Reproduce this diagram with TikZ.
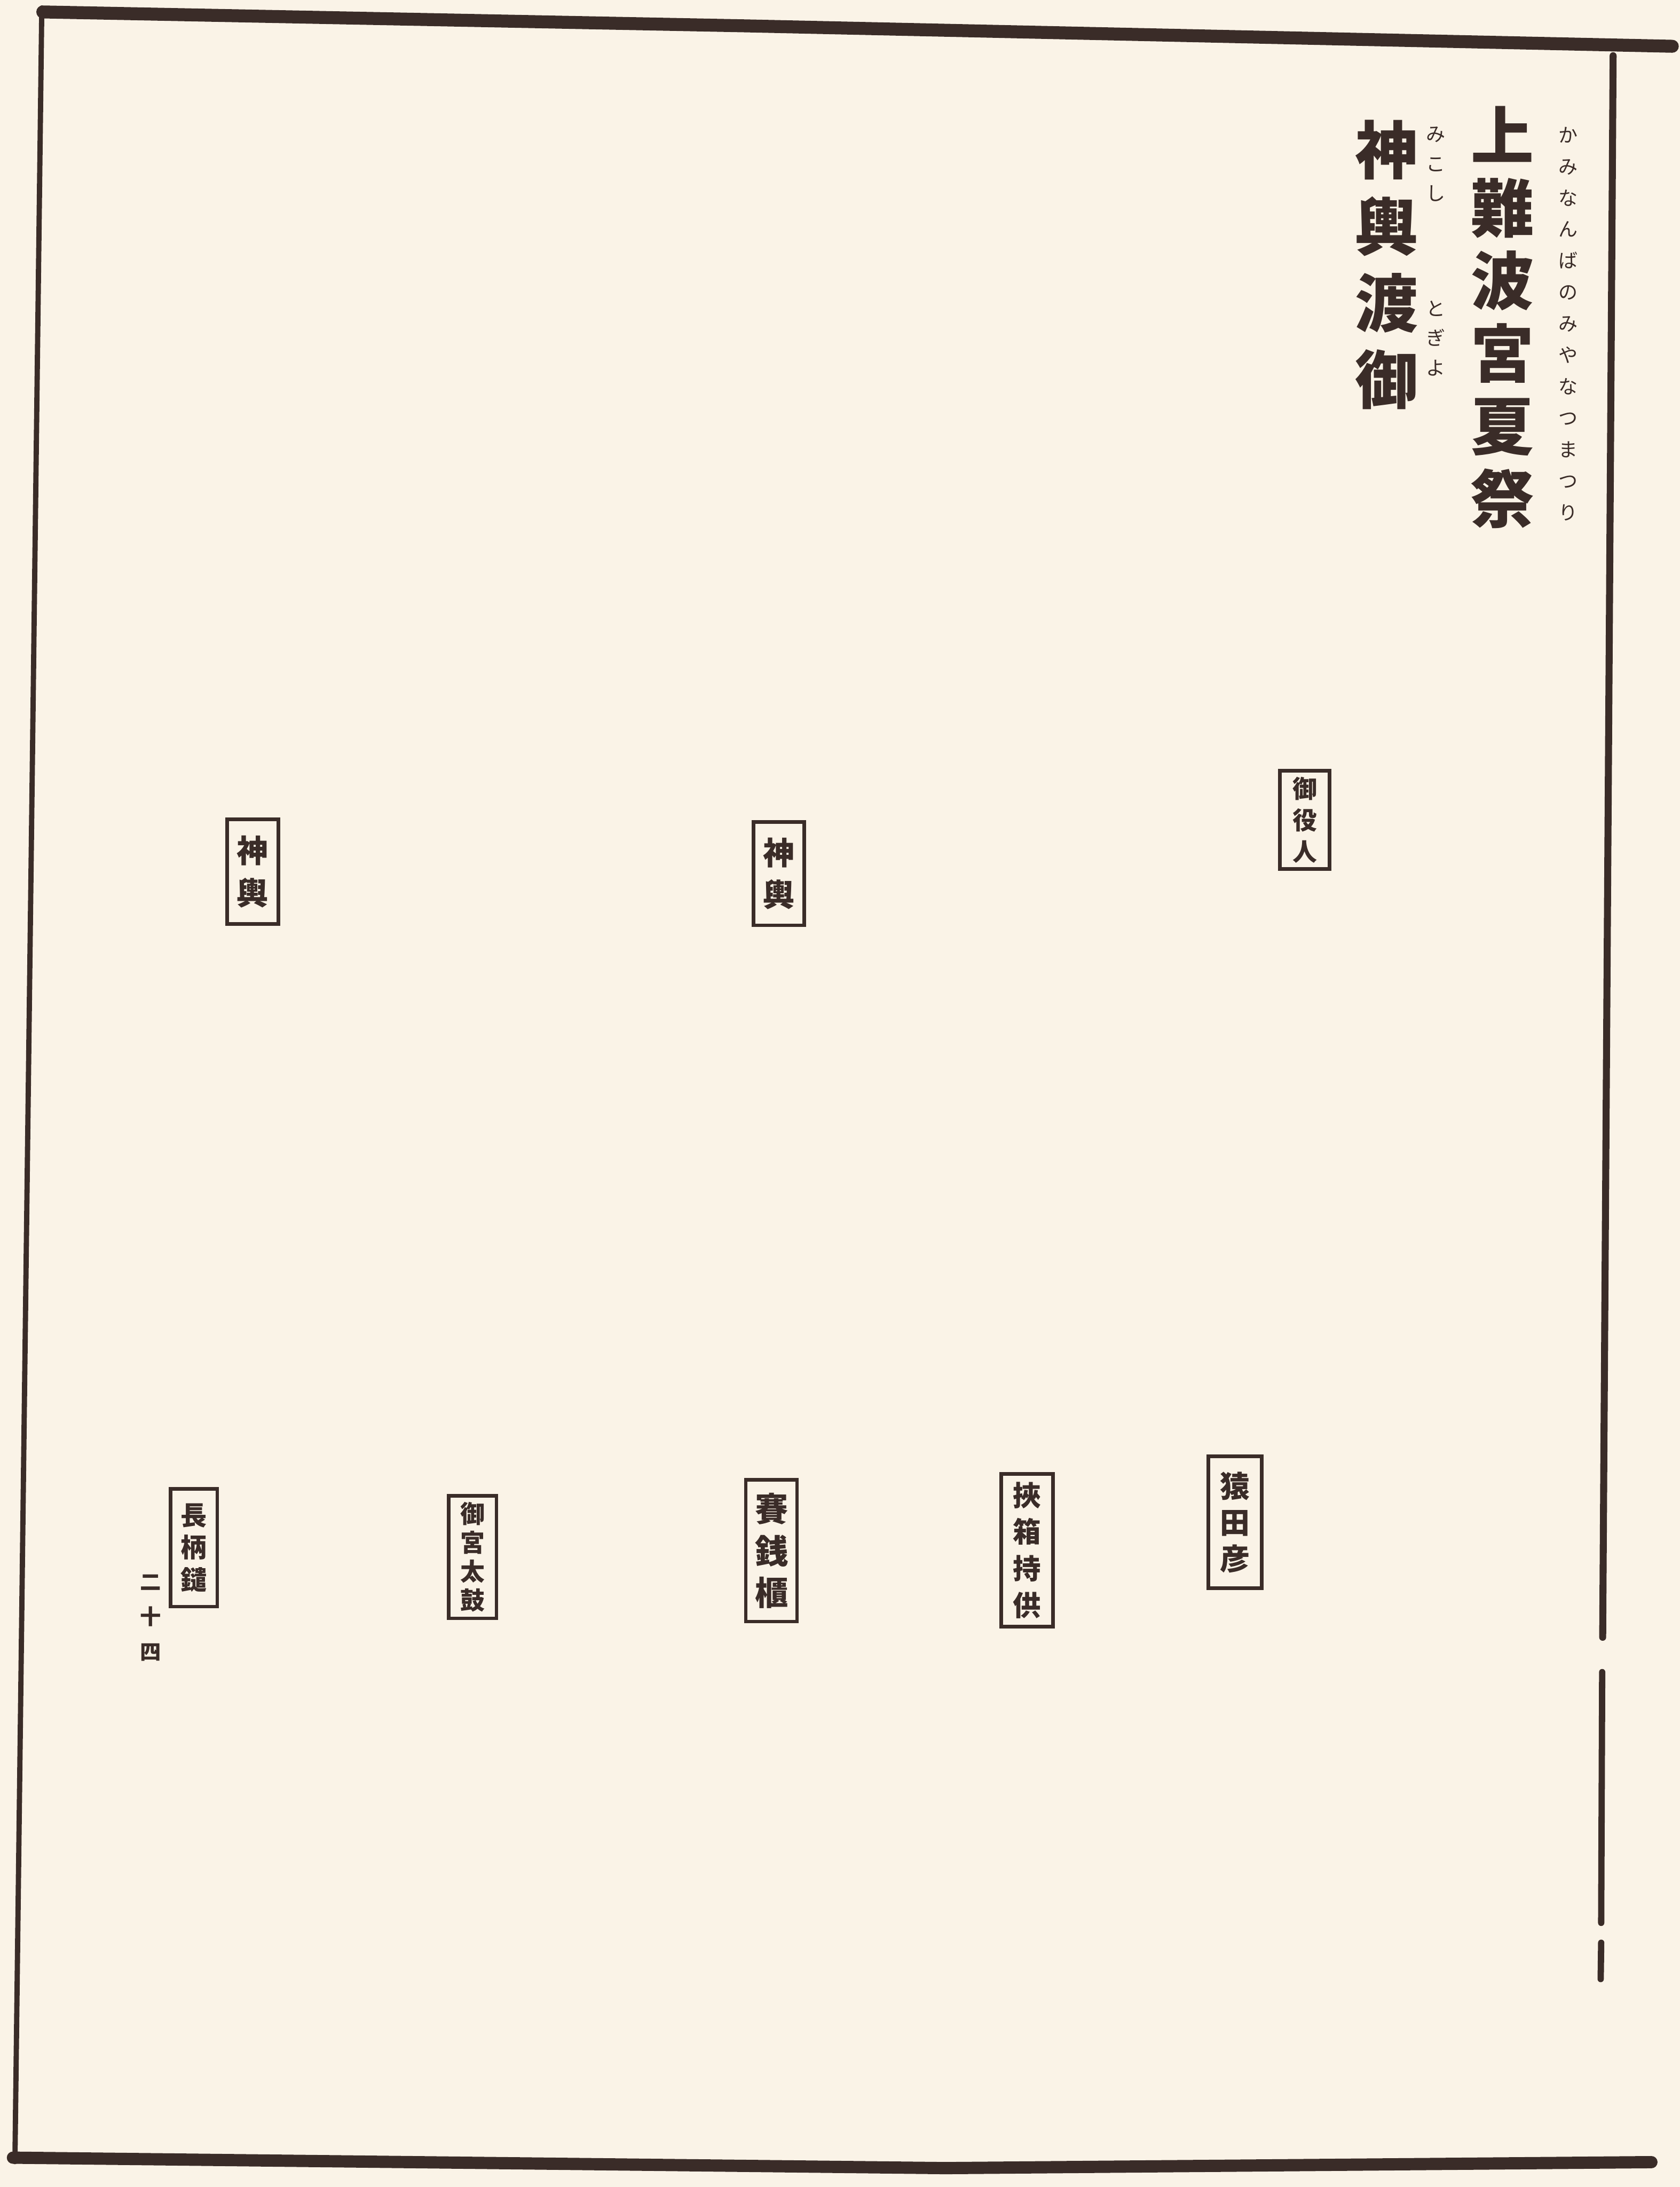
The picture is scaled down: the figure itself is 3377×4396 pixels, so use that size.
\documentclass[tikz,border=0pt]{standalone}
\usepackage{fontspec}
\newfontfamily\jp{Noto Sans CJK JP}
\definecolor{paper}{RGB}{250,243,231}
\definecolor{ink}{RGB}{58,44,40}
\begin{document}
\begin{tikzpicture}[x=0.01cm,y=-0.01cm,
  frameline/.style={draw=ink,line cap=round},
  lbl/.style={draw=ink,line width=2pt,inner sep=0pt,align=center,text=ink},
  vtext/.style={inner sep=0pt,align=center,text=ink}]
\useasboundingbox (0,0) rectangle (3377,4396);
\fill[paper] (0,0) rectangle (3377,4396);
% frame
\draw[frameline,line width=7.4pt] (86,24) -- (1500,52) -- (3362,93);
\draw[frameline,line width=3pt] (84,16) -- (30,4345);
\draw[frameline,line width=7pt] (26,4337) -- (1900,4358) -- (3320,4346);
\draw[frameline,line width=4pt] (3243,112) -- (3222,3291);
\draw[frameline,line width=3.6pt] (3221,3361) -- (3219,3865);
\draw[frameline,line width=3.6pt] (3219,3905) -- (3218,3978);
% title
\node[vtext,font=\jp\bfseries\fontsize{36pt}{41.5pt}\selectfont] (title1) at (3021,638) {上\\難\\波\\宮\\夏\\祭};
\node[vtext,font=\jp\fontsize{11pt}{18pt}\selectfont] (ruby1) at (3153,651) {か\\み\\な\\ん\\ば\\の\\み\\や\\な\\つ\\ま\\つ\\り};
\node[vtext,font=\jp\bfseries\fontsize{36pt}{43.8pt}\selectfont] (title2) at (2788,532) {神\\輿\\渡\\御};
\node[vtext,font=\jp\fontsize{11pt}{17pt}\selectfont] (ruby2a) at (2887,330) {み\\こ\\し};
\node[vtext,font=\jp\fontsize{11pt}{17pt}\selectfont] (ruby2b) at (2887,680) {と\\ぎ\\よ};
% labels
\node[lbl,minimum width=1.03cm,minimum height=2.10cm,font=\jp\bfseries\fontsize{18pt}{24pt}\selectfont] (b1) at (508,1752) {神\\輿};
\node[lbl,minimum width=1.02cm,minimum height=2.08cm,font=\jp\bfseries\fontsize{18pt}{24pt}\selectfont] (b2) at (1566,1756) {神\\輿};
\node[lbl,minimum width=1.00cm,minimum height=1.97cm,font=\jp\bfseries\fontsize{14pt}{18pt}\selectfont] (b3) at (2623,1648) {御\\役\\人};
\node[lbl,minimum width=0.94cm,minimum height=2.37cm,font=\jp\bfseries\fontsize{15pt}{18.5pt}\selectfont] (b4) at (390,3111) {長\\柄\\鑓};
\node[lbl,minimum width=0.96cm,minimum height=2.46cm,font=\jp\bfseries\fontsize{14pt}{16.5pt}\selectfont] (b5) at (950,3130) {御\\宮\\太\\鼓};
\node[lbl,minimum width=1.03cm,minimum height=2.85cm,font=\jp\bfseries\fontsize{19pt}{24pt}\selectfont] (b6) at (1551,3117) {賽\\銭\\櫃};
\node[lbl,minimum width=1.04cm,minimum height=3.07cm,font=\jp\bfseries\fontsize{16pt}{21pt}\selectfont] (b7) at (2065,3116) {挾\\箱\\持\\供};
\node[lbl,minimum width=1.07cm,minimum height=2.65cm,font=\jp\bfseries\fontsize{17pt}{20.8pt}\selectfont] (b8) at (2483,3060) {猿\\田\\彦};
% page number
\node[vtext,font=\jp\bfseries\fontsize{12pt}{20pt}\selectfont] (page) at (303,3252) {二\\十\\四};
\end{tikzpicture}
\end{document}
